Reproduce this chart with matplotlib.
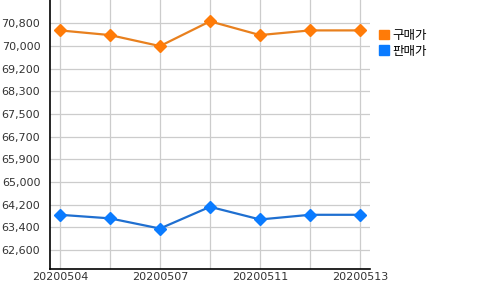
import matplotlib
matplotlib.use('Agg')
import matplotlib.pyplot as plt
from matplotlib.patches import Patch

dates = ['20200504', '20200506', '20200507', '20200508', '20200511', '20200512', '20200513']
buy = [70550, 70380, 69980, 70880, 70380, 70550, 70550]
sell = [63850, 63720, 63350, 64140, 63680, 63850, 63850]
series_names = ['구매가', '판매가']
y_labels = ['62,600', '63,400', '64,200', '65,000', '65,900', '66,700',
            '67,500', '68,300', '69,200', '70,000', '70,800']

tick_start = 62566
tick_step = 824

fig = plt.figure(figsize=(5, 2.9), dpi=100)
ax = fig.add_axes([0.1, 0.071, 0.64, 0.929])

x = list(range(len(dates)))
ax.plot(x, buy, color='#e8801e', lw=1.6, marker='D', ms=6.5,
        mfc='#ff7b08', mec='#ff7b08', zorder=3)
ax.plot(x, sell, color='#1f6fd0', lw=1.6, marker='D', ms=6.5,
        mfc='#0a7bff', mec='#0a7bff', zorder=3)

yticks = [tick_start + i * tick_step for i in range(len(y_labels))]
ax.set_yticks(yticks)
ax.set_yticklabels(y_labels)
ax.set_ylim(tick_start - 0.85 * tick_step, tick_start + 11.03 * tick_step)
ax.set_xlim(-0.2, len(dates) - 0.8)
ax.set_xticks(x)
ax.set_xticklabels([d if i % 2 == 0 else '' for i, d in enumerate(dates)])

ax.grid(True, color='#cccccc', lw=0.9)
ax.set_axisbelow(True)
for s in ['top', 'right']:
    ax.spines[s].set_visible(False)
for s in ['left', 'bottom']:
    ax.spines[s].set_color('black')
    ax.spines[s].set_linewidth(1.2)
ax.tick_params(length=0, labelsize=8, colors='#333333')
ax.tick_params(axis='y', pad=7)
ax.tick_params(axis='x', pad=2)

handles = [Patch(color='#ff7b08'), Patch(color='#0a7bff')]
fig.legend(handles, series_names, loc='upper left', bbox_to_anchor=(0.758, 0.9),
           frameon=False, handlelength=0.8, handleheight=0.8, handletextpad=0.3,
           labelspacing=0.2, borderpad=0, borderaxespad=0,
           prop={'family': ['Noto Sans CJK KR', 'DejaVu Sans'], 'size': 9})

fig.savefig('out.png', dpi=100)
